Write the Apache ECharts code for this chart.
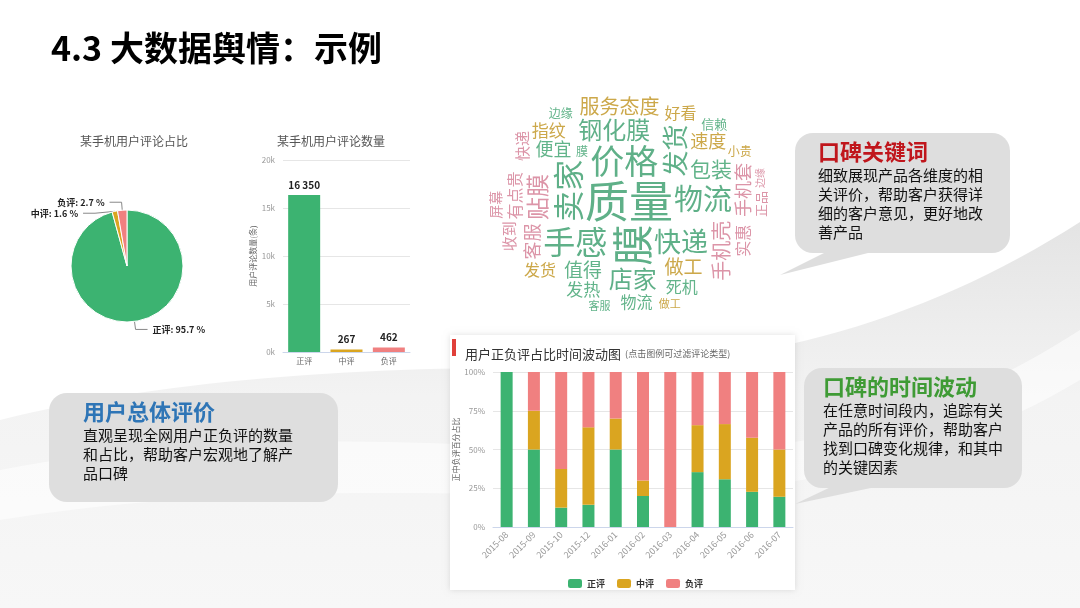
<!DOCTYPE html>
<html>
<head>
<meta charset="utf-8">
<script src="https://cdn.jsdelivr.net/npm/echarts@6/dist/echarts.min.js"></script>
<style>
html, body { margin: 0; padding: 0; background: #fff; }
#main { width: 1080px; height: 608px; }
</style>
</head>
<body>
<div id="main"></div>
<script>
var FONT = '"Noto Sans CJK SC", "Noto Sans", sans-serif';

// review totals (pie + bar)
var reviewTypes = ['正评', '中评', '负评'];
var reviewCounts = [16350, 267, 462];
var reviewColors = ['#3cb371', '#daa520', '#f08080'];

// monthly share (%)
var months = ['2015-08', '2015-09', '2015-10', '2015-12', '2016-01', '2016-02',
              '2016-03', '2016-04', '2016-05', '2016-06', '2016-07'];
var positiveShare = [100, 50, 12.5, 14.3, 50, 20, 0, 35.4, 30.8, 22.7, 19.5];
var neutralShare  = [0, 25, 25, 50, 20, 10, 0, 30.3, 35.6, 34.9, 30.5];
var negativeShare = [0, 25, 62.5, 35.7, 30, 70, 100, 34.3, 33.6, 42.4, 50];

var countTicks = [0, 5000, 10000, 15000, 20000];
var shareTicks = [0, 25, 50, 75, 100];

// word cloud
var cloudWords = ['质量', '膜', '价格', '手感', '卖家', '物流', '快递', '发货', '钢化膜', '店家',
                  '贴膜', '包装', '服务态度', '手机壳', '值得', '做工', '手机套', '便宜', '速度', '客服',
                  '发热', '指纹', '有点贵', '死机', '好看', '实惠', '物流', '快递', '发货', '钢化膜',
                  '店铺', '收到', '店家', '屏幕', '卖家', '贴膜', '手机壳', '正品', '信赖', '客服',
                  '做工', '手感', '服务态度', '不灵敏', '边缘', '小贵', '软件', '送货', '划痕', '手机',
                  '好评', '保护', '耐用', '灵敏', '手机套', '卖家', '贴膜', '发货', '质量', '膜',
                  '做工', '物流', '客服', '店家', '手感', '便宜', '速度', '包装', '软件', '屏幕',
                  '手机壳', '钢化膜', '收到', '发热', '实惠', '好看', '死机', '指纹', '店铺', '正品',
                  '快递', '做工', '边缘', '划痕', '服务态度', '卖家'];
var cloudWeights = [96, 88, 70, 66, 62, 58, 52, 50, 46, 46,
                    42, 38, 34, 34, 32, 32, 30, 30, 30, 30,
                    28, 28, 26, 26, 24, 24, 24, 22, 24, 22,
                    22, 22, 22, 20, 22, 20, 20, 18, 18, 18,
                    18, 18, 18, 16, 16, 16, 16, 16, 16, 16,
                    15, 15, 15, 15, 15, 15, 14, 14, 14, 14,
                    13, 13, 13, 13, 13, 13, 13, 13, 13, 13,
                    12, 12, 12, 12, 12, 12, 12, 12, 12, 12,
                    11, 11, 11, 11, 11, 11];
var cloudPalette = ['#cca84a', '#dc95a8', '#62b48a'];

function spaced(v) {
  return String(v).replace(/\B(?=(\d{3})+(?!\d))/g, ' ');
}

// sample a cubic bezier into polygon points
function bez(p0, p1, p2, p3, n) {
  var pts = [];
  for (var i = 0; i <= n; i++) {
    var t = i / n, u = 1 - t;
    pts.push([
      u * u * u * p0[0] + 3 * u * u * t * p1[0] + 3 * u * t * t * p2[0] + t * t * t * p3[0],
      u * u * u * p0[1] + 3 * u * u * t * p1[1] + 3 * u * t * t * p2[1] + t * t * t * p3[1]
    ]);
  }
  return pts;
}

function layoutCloud() {
  var cx = 629, cy = 201, rx = 144, ry = 117;
  var order = cloudWords.map(function (w, i) { return i; });
  order.sort(function (a, b) { return cloudWeights[b] - cloudWeights[a]; });
  var boxes = [], items = [];
  function inside(b) {
    var pts = [[b[0], b[1]], [b[2], b[1]], [b[0], b[3]], [b[2], b[3]]];
    for (var i = 0; i < 4; i++) {
      var dx = (pts[i][0] - cx) / rx, dy = (pts[i][1] - cy) / ry;
      if (dx * dx + dy * dy > 1) return false;
    }
    return true;
  }
  function hits(b) {
    for (var i = 0; i < boxes.length; i++) {
      var o = boxes[i];
      if (b[0] < o[2] && b[2] > o[0] && b[1] < o[3] && b[3] > o[1]) return true;
    }
    return false;
  }
  order.forEach(function (idx, k) {
    var word = cloudWords[idx];
    var size = Math.round(6 + cloudWeights[idx] * 0.4);
    var rot = (k % 3 === 1);
    var w = size * word.length * 0.98 + 2, h = size * 0.98 + 2;
    if (rot) { var t = w; w = h; h = t; }
    for (var s = 0; s < 6000; s++) {
      var a = s * 0.11, r = s * 0.04;
      var x = cx + r * Math.cos(a) * 1.2, y = cy + r * Math.sin(a);
      var box = [x - w / 2, y - h / 2, x + w / 2, y + h / 2];
      if (!inside(box) || hits(box)) continue;
      boxes.push(box);
      items.push({
        type: 'text',
        x: x, y: y,
        rotation: rot ? Math.PI / 2 : 0,
        z: 10,
        style: {
          text: word,
          fontSize: size,
          fontFamily: FONT,
          fill: cloudWeights[idx] >= 45 ? '#5fb088' : cloudPalette[k % 3],
          align: 'center',
          verticalAlign: 'middle'
        }
      });
      break;
    }
  });
  return items;
}

function callout(x, y, w, h, pad, tail, title, titleColor, body) {
  var els = [
    { type: 'rect', z: 2, shape: { x: x, y: y, width: w, height: h, r: 18 }, style: { fill: '#dedede' } },
    { type: 'text', z: 3, x: x + pad, y: y + 8,
      style: { text: title, fontSize: 22, fontWeight: 'bold', fontFamily: FONT, fill: titleColor } },
    { type: 'text', z: 3, x: x + pad, y: y + 33,
      style: { text: body, fontSize: 15, lineHeight: 19, fontFamily: FONT, fill: '#111' } }
  ];
  if (tail) els.unshift({ type: 'polygon', z: 2, shape: { points: tail }, style: { fill: '#dedede' } });
  return els;
}

var myChart = echarts.init(document.getElementById('main'));

var swooshTop = bez([0, 420], [160, 380], [360, 366], [560, 368], 30)
  .concat(bez([560, 368], [760, 370], [930, 318], [1080, 222], 30))
  .concat([[1080, 608], [0, 608]]);
var swooshBand = bez([0, 470], [200, 430], [420, 440], [600, 452], 30)
  .concat(bez([600, 452], [800, 460], [940, 420], [1080, 330], 30))
  .concat(bez([1080, 380], [930, 470], [760, 500], [560, 495], 30))
  .concat(bez([560, 495], [380, 492], [200, 488], [0, 520], 30));

var graphics = [
  // background swoosh
  { type: 'polygon', z: -20, shape: { points: swooshTop },
    style: { fill: new echarts.graphic.LinearGradient(0, 0, 0, 1, [
      { offset: 0, color: '#e4e4e4' }, { offset: 0.45, color: '#f3f3f3' }, { offset: 1, color: '#f7f7f7' }]) } },
  { type: 'polygon', z: -19, shape: { points: swooshBand }, style: { fill: 'rgba(255,255,255,0.55)' } },
  // white panels behind pictures
  { type: 'rect', z: -10, shape: { x: 25, y: 118, width: 395, height: 250 }, style: { fill: '#fff' } },
  { type: 'rect', z: -10, shape: { x: 478, y: 80, width: 282, height: 242 }, style: { fill: '#fff' } },
  { type: 'rect', z: -10, shape: { x: 450, y: 335, width: 345, height: 255 },
    style: { fill: '#fff', shadowBlur: 6, shadowColor: 'rgba(0,0,0,0.12)' } },
  { type: 'rect', z: 4, shape: { x: 452, y: 339, width: 4, height: 17 }, style: { fill: '#e0403a' } }
];

graphics = graphics
  .concat(callout(795, 133, 215, 120, 23, [[830, 250], [880, 250], [780, 275]],
                  '口碑关键词', '#c0161c', '细致展现产品各维度的相\n关评价，帮助客户获得详\n细的客户意见，更好地改\n善产品'))
  .concat(callout(804, 368, 218, 120, 19, [[835, 485], [885, 485], [795, 504]],
                  '口碑的时间波动', '#3f9b35', '在任意时间段内，追踪有关\n产品的所有评价，帮助客户\n找到口碑变化规律，和其中\n的关键因素'))
  .concat(callout(49, 393, 289, 109, 34, null,
                  '用户总体评价', '#2e75b6', '直观呈现全网用户正负评的数量\n和占比，帮助客户宏观地了解产\n品口碑'))
  .concat(layoutCloud());

option = {
  animation: false,
  backgroundColor: '#fff',
  textStyle: { fontFamily: FONT },
  title: [
    { text: '4.3 大数据舆情：示例', left: 46, top: 26,
      textStyle: { fontSize: 34, fontWeight: 'bold', color: '#000', fontFamily: FONT } },
    { text: '某手机用户评论占比', left: 129, top: 130, textAlign: 'center',
      textStyle: { fontSize: 12, fontWeight: 'normal', color: '#555' } },
    { text: '某手机用户评论数量', left: 326, top: 130, textAlign: 'center',
      textStyle: { fontSize: 12, fontWeight: 'normal', color: '#555' } },
    { text: '{a|用户正负评占比时间波动图} {b|(点击图例可过滤评论类型)}', left: 460, top: 340,
      textStyle: { rich: {
        a: { fontSize: 13, color: '#333', fontWeight: 'normal', fontFamily: FONT },
        b: { fontSize: 9, color: '#666', fontWeight: 'normal', fontFamily: FONT }
      } } }
  ],
  legend: {
    data: reviewTypes,
    left: 563, top: 574,
    itemWidth: 14, itemHeight: 9, itemGap: 12,
    textStyle: { fontSize: 9, fontWeight: 'bold', color: '#333' }
  },
  grid: [
    { left: 283, right: 670, top: 160, bottom: 256 },
    { left: 493, right: 287, top: 372, bottom: 81 }
  ],
  xAxis: [
    { gridIndex: 0, type: 'category', data: reviewTypes,
      axisLine: { lineStyle: { color: '#ccd6eb' } },
      axisTick: { lineStyle: { color: '#ccd6eb' } },
      axisLabel: { fontSize: 8, color: '#666', margin: 5 } },
    { gridIndex: 1, type: 'category', data: months,
      axisLine: { lineStyle: { color: '#ccd6eb' } },
      axisTick: { lineStyle: { color: '#ccd6eb' } },
      axisLabel: { fontSize: 9, color: '#999', rotate: 45, margin: 6 } }
  ],
  yAxis: [
    { gridIndex: 0, type: 'value', min: countTicks[0], max: countTicks[countTicks.length - 1], interval: 5000,
      name: '用户评论数量(条)', nameLocation: 'middle', nameGap: 26, nameRotate: 90,
      nameTextStyle: { fontSize: 8, color: '#666' },
      axisLabel: { fontSize: 8, color: '#999', formatter: function (v) { return v / 1000 + 'k'; } },
      splitLine: { lineStyle: { color: '#e6e6e6' } } },
    { gridIndex: 1, type: 'value', min: shareTicks[0], max: shareTicks[shareTicks.length - 1], interval: 25,
      name: '正中负评百分占比', nameLocation: 'middle', nameGap: 30, nameRotate: 90,
      nameTextStyle: { fontSize: 8, color: '#666' },
      axisLabel: { fontSize: 8, color: '#999', formatter: '{value}%' },
      splitLine: { lineStyle: { color: '#e6e6e6' } } }
  ],
  series: [
    {
      name: '评论占比', type: 'pie',
      center: [127, 266], radius: 56,
      startAngle: 90, clockwise: true,
      percentPrecision: 1,
      itemStyle: { borderColor: '#fff', borderWidth: 1 },
      label: { formatter: '{b}: {d} %', fontSize: 9, fontWeight: 'bold', color: '#222' },
      labelLine: { length: 8, length2: 12, lineStyle: { color: '#888' } },
      data: reviewTypes.map(function (t, i) {
        return { name: t, value: reviewCounts[i], itemStyle: { color: reviewColors[i] } };
      })
    },
    {
      name: '评论数量', type: 'bar', xAxisIndex: 0, yAxisIndex: 0,
      barWidth: 32,
      label: { show: true, position: 'top', fontSize: 10, fontWeight: 'bold', color: '#222',
               formatter: function (p) { return spaced(p.value); } },
      data: reviewCounts.map(function (v, i) {
        return { value: v, itemStyle: { color: reviewColors[i] } };
      })
    },
    { name: '正评', type: 'bar', stack: 'share', xAxisIndex: 1, yAxisIndex: 1, barWidth: 12,
      itemStyle: { color: reviewColors[0] }, data: positiveShare },
    { name: '中评', type: 'bar', stack: 'share', xAxisIndex: 1, yAxisIndex: 1, barWidth: 12,
      itemStyle: { color: reviewColors[1] }, data: neutralShare },
    { name: '负评', type: 'bar', stack: 'share', xAxisIndex: 1, yAxisIndex: 1, barWidth: 12,
      itemStyle: { color: reviewColors[2] }, data: negativeShare }
  ],
  graphic: graphics
};

myChart.setOption(option);
</script>
</body>
</html>
